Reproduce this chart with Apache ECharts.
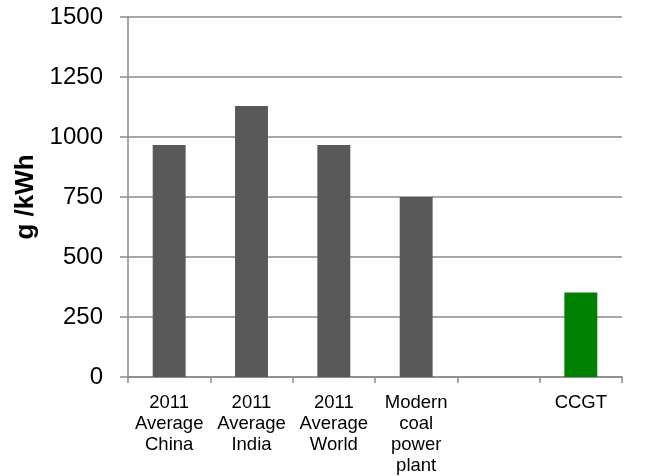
<!DOCTYPE html>
<html>
<head>
<meta charset="utf-8">
<script src="https://cdn.jsdelivr.net/npm/echarts@6/dist/echarts.min.js"></script>
<style>
  html, body { margin: 0; padding: 0; background: #ffffff; }
  #chart { width: 656px; height: 476px; }
</style>
</head>
<body>
<div id="chart"></div>
<script>
// Emission intensity of power generation, g CO2 per kWh
const categories = ['2011\nAverage\nChina', '2011\nAverage\nIndia', '2011\nAverage\nWorld', 'Modern\ncoal\npower\nplant', '', 'CCGT'];
const values = [967, 1129, 967, 750, null, 352];
const barColors = ['#595959', '#595959', '#595959', '#595959', '#595959', '#008000'];
const yTicks = [0, 250, 500, 750, 1000, 1250, 1500];

const gridColor = '#8a8a8a';
const font = 'Liberation Sans, Arial, sans-serif';

const chart = echarts.init(document.getElementById('chart'), null, { renderer: 'canvas' });

chart.setOption({
  animation: false,
  backgroundColor: '#ffffff',
  grid: { left: 128, right: 34, top: 17, bottom: 99, containLabel: false },
  xAxis: {
    type: 'category',
    data: categories,
    axisLine: { show: true, lineStyle: { color: gridColor, width: 1.5 } },
    axisTick: { show: true, length: 6, alignWithLabel: false, lineStyle: { color: gridColor, width: 1.5 } },
    axisLabel: {
      interval: 0,
      color: '#000000',
      fontFamily: font,
      fontSize: 18.5,
      lineHeight: 21,
      margin: 15
    },
    splitLine: { show: false }
  },
  yAxis: {
    type: 'value',
    min: yTicks[0],
    max: yTicks[yTicks.length - 1],
    interval: yTicks[1] - yTicks[0],
    name: 'g /kWh',
    nameLocation: 'middle',
    nameGap: 82,
    nameRotate: 90,
    nameTextStyle: { color: '#000000', fontFamily: font, fontSize: 26, fontWeight: 'bold' },
    axisLine: { show: true, lineStyle: { color: gridColor, width: 1.5 } },
    axisTick: { show: true, inside: false, length: 8, lineStyle: { color: gridColor, width: 1.5 } },
    axisLabel: {
      color: '#000000',
      fontFamily: font,
      fontSize: 24,
      margin: 25,
      formatter: (v) => String(v)
    },
    splitLine: { show: true, lineStyle: { color: gridColor, width: 1.5 } }
  },
  series: [{
    type: 'bar',
    data: values.map((v, i) => ({ value: v, itemStyle: { color: barColors[i] } })),
    barWidth: '40%'
  }]
});
</script>
</body>
</html>
